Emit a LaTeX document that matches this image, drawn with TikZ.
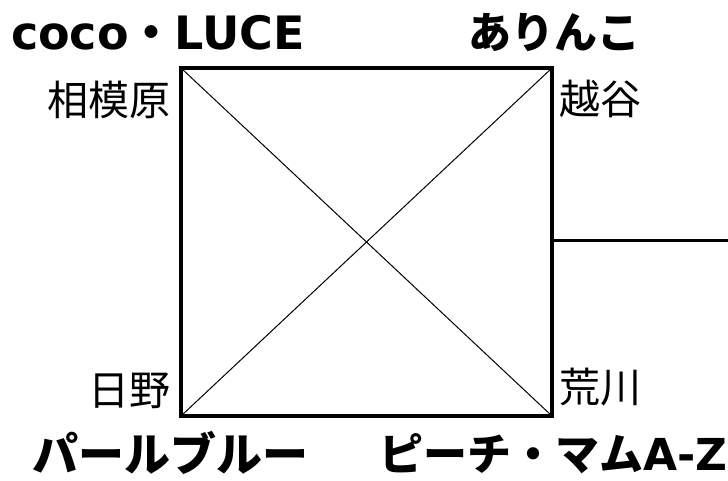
\documentclass[tikz,border=0pt]{standalone}
\usepackage{fontspec}
\setmainfont{Noto Sans CJK JP}
\newfontfamily\latin{DejaVu Sans}
\usetikzlibrary{positioning,calc}

\begin{document}
\begin{tikzpicture}[x=1pt, y=-1pt, line join=miter]
\tikzstyle{team}=[font=\fontsize{44}{44}\selectfont\bfseries, inner sep=0pt]
\tikzstyle{place}=[font=\fontsize{41}{41}\selectfont, inner sep=0pt]
\useasboundingbox (0,0) rectangle (728,481);
% square of the block
\coordinate (tl) at (181,68);
\coordinate (tr) at (552,68);
\coordinate (bl) at (181,416);
\coordinate (br) at (552,416);
\coordinate (mid) at ($(tr)!0.5!(br)$);
\coordinate (out) at (728,240);
\draw[line width=1pt] (tl) -- (br) (tr) -- (bl);
\draw[line width=3.6pt] (tl) -- (tr) -- (br) -- (bl) -- cycle;
\draw[line width=3pt] (mid |- out) -- (out);
% places
\node[place, anchor=east] (sagamihara) at (171,100) {相模原};
\node[place, anchor=west] (koshigaya) at (559,99) {越谷};
\node[place, anchor=east] (hino) at (171,391) {日野};
\node[place, anchor=west] (arakawa) at (559,387) {荒川};
% teams
\node[team, anchor=base, font=\fontsize{46}{46}\selectfont\bfseries] (coco) at (158,50) {{\latin\bfseries coco}・{\latin\bfseries LUCE}};
\node[team, font=\fontsize{43}{43}\selectfont\bfseries] (arinko) at (554,33) {ありんこ};
\node[team, font=\fontsize{46}{46}\selectfont\bfseries] (pearl) at (170,453) {パールブルー};
\node[team, anchor=base east] (peach) at (728,470) {ピーチ・マム{\latin\bfseries A-Z}};
\end{tikzpicture}
\end{document}
